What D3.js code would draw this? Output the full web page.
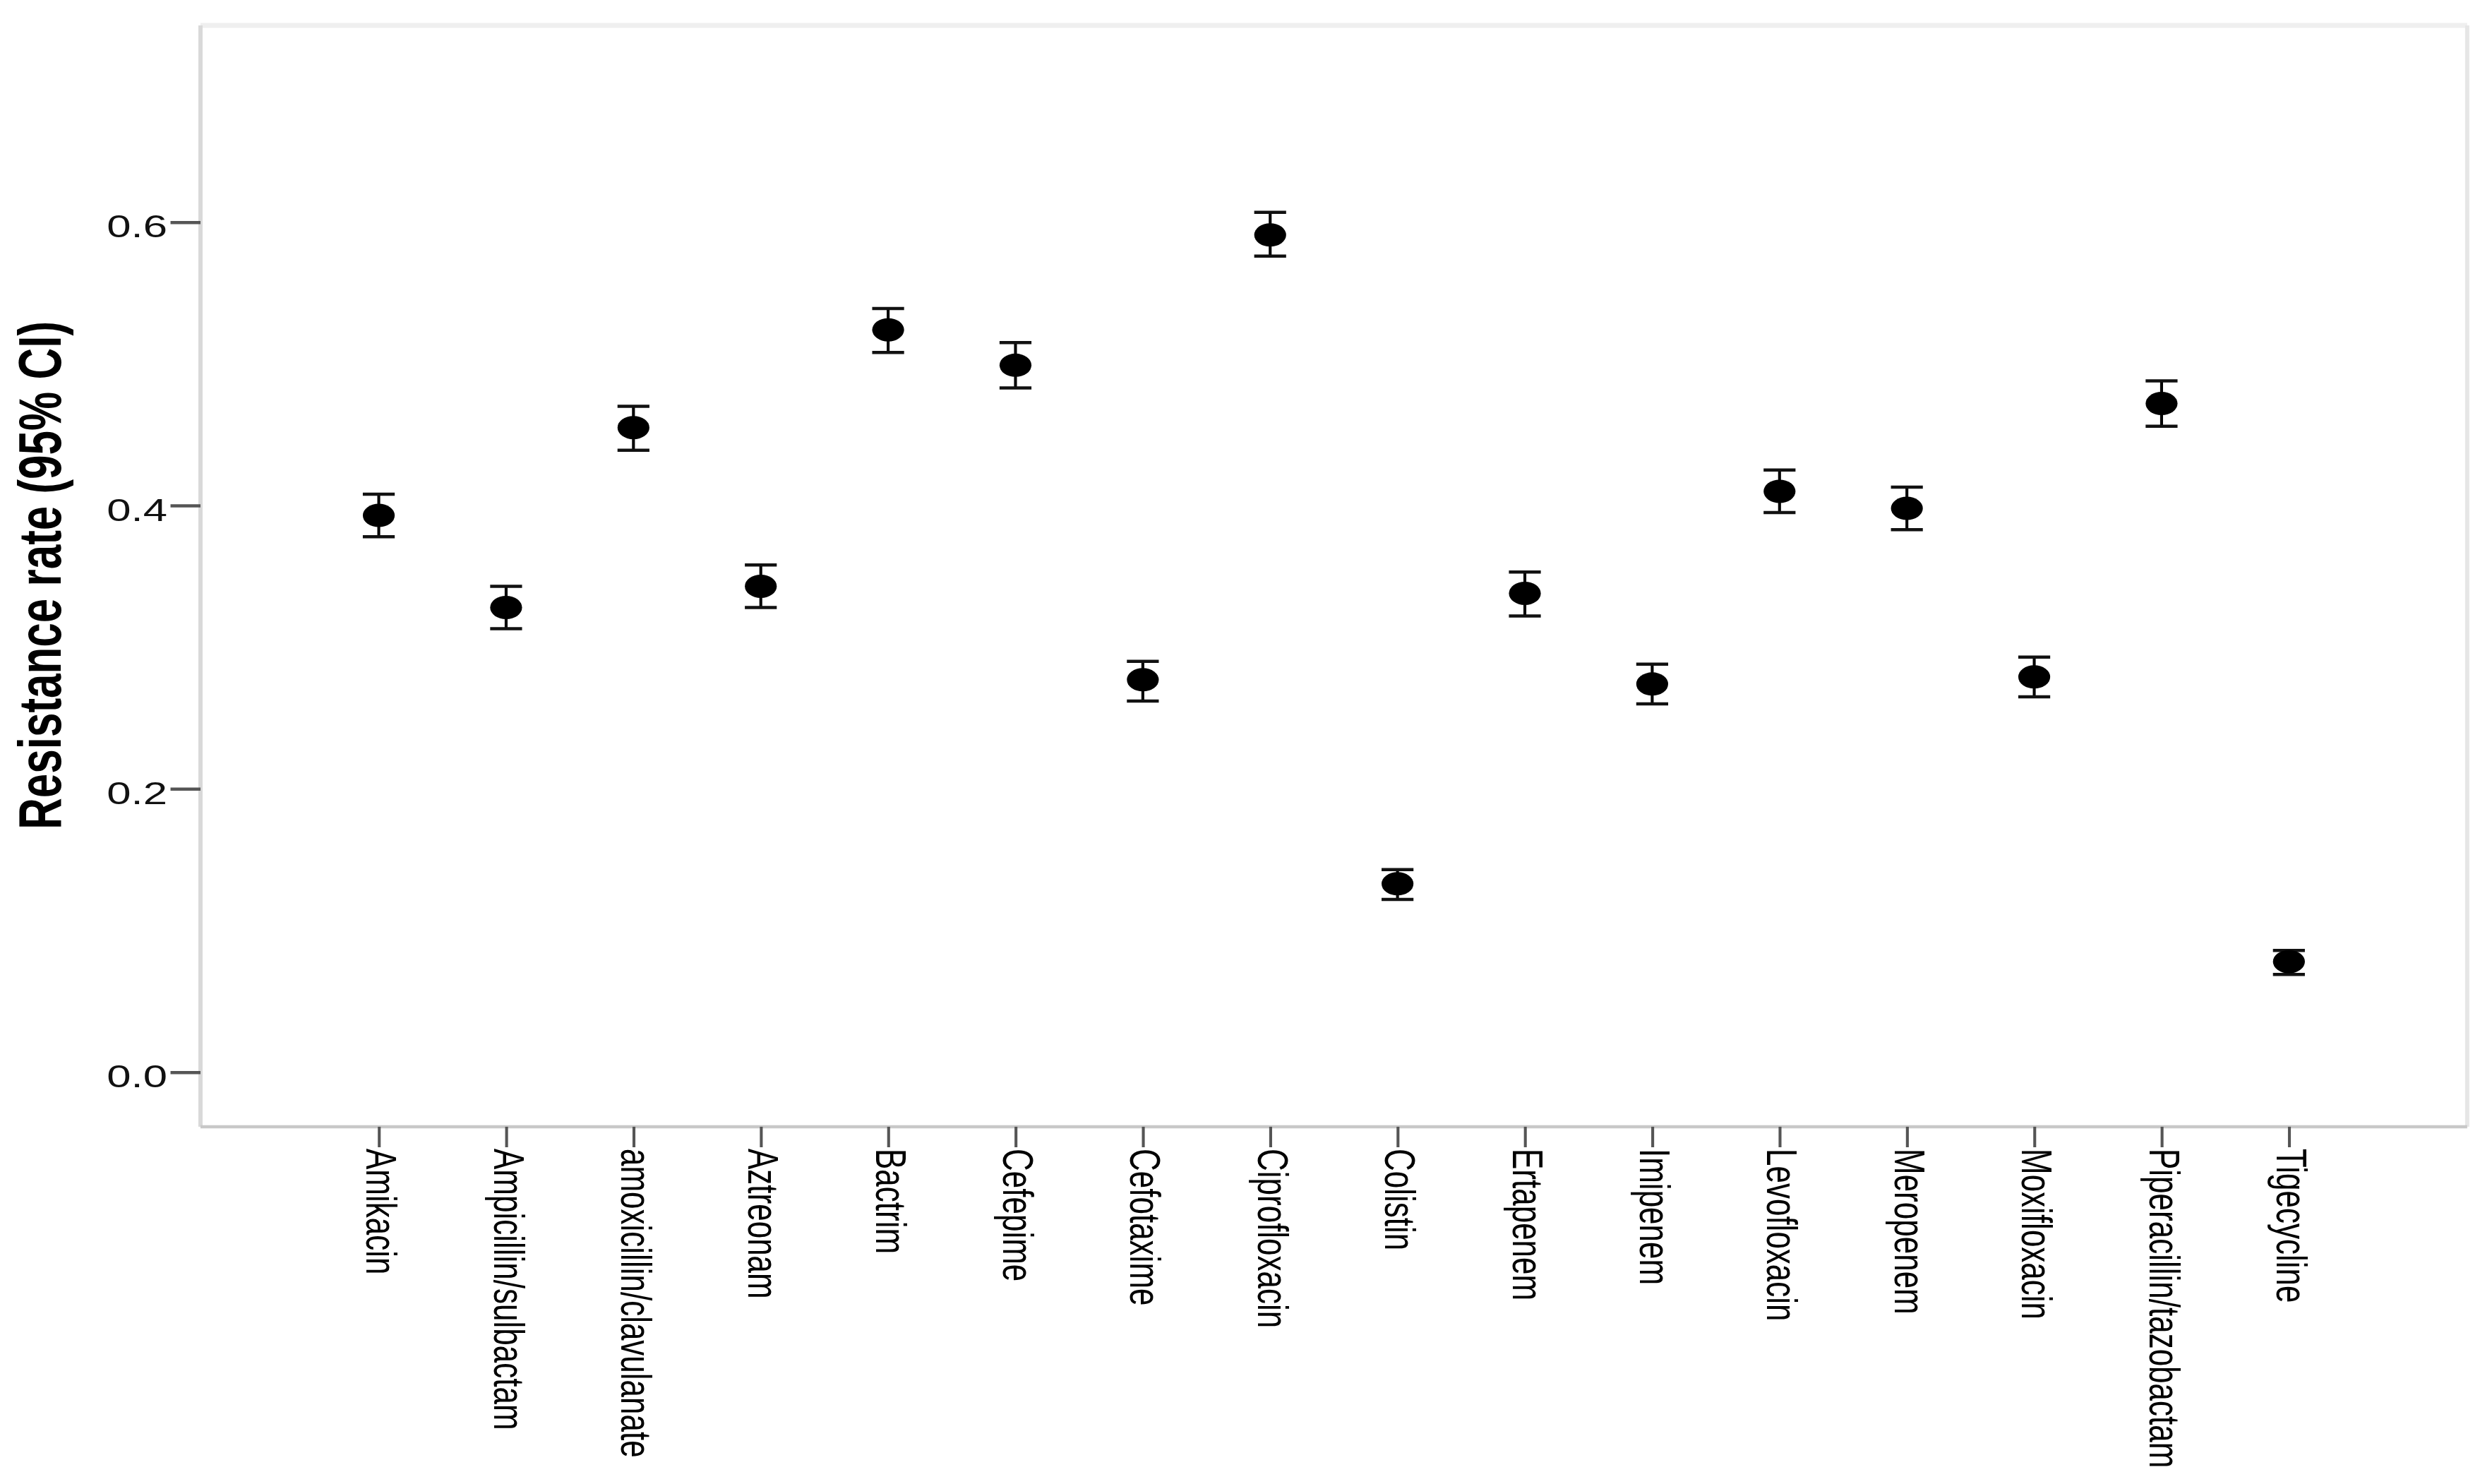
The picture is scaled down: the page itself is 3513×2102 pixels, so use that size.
<!DOCTYPE html>
<html>
<head>
<meta charset="utf-8">
<script src="https://cdn.jsdelivr.net/npm/d3@7"></script>
<style>
  body { margin: 0; background: #fff; }
  svg { display: block; }
</style>
</head>
<body>
<script>
var drugs = ["Amikacin", "Ampicillin/sulbactam", "amoxicillin/clavulanate", "Aztreonam", "Bactrim",
  "Cefepime", "Cefotaxime", "Ciprofloxacin", "Colistin", "Ertapenem", "Imipenem", "Levofloxacin",
  "Meropenem", "Moxifloxacin", "Piperacillin/tazobactam", "Tigecycline"];
var rate    = [0.393, 0.328, 0.455, 0.343, 0.524, 0.499, 0.277, 0.591, 0.133, 0.338, 0.274, 0.410, 0.398, 0.279, 0.472, 0.078];
var ci_low  = [0.378, 0.313, 0.439, 0.328, 0.508, 0.483, 0.262, 0.576, 0.122, 0.322, 0.260, 0.395, 0.383, 0.265, 0.456, 0.069];
var ci_high = [0.408, 0.343, 0.470, 0.358, 0.539, 0.515, 0.290, 0.607, 0.143, 0.353, 0.288, 0.425, 0.413, 0.293, 0.488, 0.086];
var y_ticks = [0, 0.2, 0.4, 0.6];
var y_title = "Resistance rate (95% CI)";

var width = 3513, height = 2102;
var stretch = 1.37;               // the original picture is pulled sideways, so draw narrow and let the viewBox widen it
var vw = width / stretch;

var frame = { left: 207.3, right: 2551, top: 36, bottom: 1596 };

var svg = d3.select("body").append("svg")
  .attr("width", width).attr("height", height)
  .attr("viewBox", "0 0 " + vw + " " + height)
  .attr("preserveAspectRatio", "none")
  .style("font-family", "'Liberation Sans', Arial, sans-serif");

var x = d3.scalePoint().domain(drugs).range([frame.left, frame.right]).padding(1.4);
var y = d3.scaleLinear().domain([0, 0.6]).range([1518.7, 314.7]);

/*************************** frame ***************************/

svg.append("line").attr("x1", frame.left).attr("x2", frame.right).attr("y1", frame.top).attr("y2", frame.top)
  .style("stroke", "#efefef").style("stroke-width", 7);
svg.append("line").attr("x1", frame.right).attr("x2", frame.right).attr("y1", frame.top).attr("y2", frame.bottom)
  .style("stroke", "#e6e6e6").style("stroke-width", 4.4);
svg.append("line").attr("x1", frame.left).attr("x2", frame.left).attr("y1", frame.top).attr("y2", frame.bottom)
  .style("stroke", "#d9d9d9").style("stroke-width", 4.4);
svg.append("line").attr("x1", frame.left).attr("x2", frame.right).attr("y1", frame.bottom).attr("y2", frame.bottom)
  .style("stroke", "#c8c8c8").style("stroke-width", 4.5);

/*************************** y axis ***************************/

var yAxis = svg.append("g")
  .attr("transform", "translate(" + frame.left + ",0)")
  .call(d3.axisLeft(y).tickValues(y_ticks).tickFormat(d3.format(".1f")).tickSize(31).tickPadding(3.3));
yAxis.select(".domain").remove();
yAxis.selectAll(".tick line").style("stroke", "#555").style("stroke-width", 4.5);
yAxis.selectAll(".tick text")
  .attr("dy", "0.47em")
  .style("font-size", "45px").style("fill", "#111").style("font-family", "'Liberation Sans', Arial, sans-serif");

svg.append("text")
  .attr("transform", "translate(62.8,815) rotate(-90)")
  .attr("text-anchor", "middle")
  .style("font-size", "62px").style("font-weight", "bold").style("fill", "#000")
  .text(y_title);

/*************************** x axis ***************************/

var xAxis = svg.append("g")
  .attr("transform", "translate(0," + frame.bottom + ")")
  .call(d3.axisBottom(x).tickSize(29));
xAxis.select(".domain").remove();
xAxis.selectAll(".tick line").style("stroke", "#555").style("stroke-width", 3);
xAxis.selectAll(".tick text")
  .attr("transform", "rotate(90)")
  .attr("x", 31).attr("y", 0).attr("dy", "0.3em")
  .attr("text-anchor", "start")
  .style("font-size", "44px").style("fill", "#000").style("font-family", "'Liberation Sans', Arial, sans-serif");

/*************************** error bars + points ***************************/

var rows = drugs.map(function(d, i){ return { name: d, rate: rate[i], lo: ci_low[i], hi: ci_high[i] }; });
var cap = 16.5;

var bars = svg.append("g").selectAll("g").data(rows).enter().append("g");
bars.append("line")
  .attr("x1", function(d){ return x(d.name); }).attr("x2", function(d){ return x(d.name); })
  .attr("y1", function(d){ return y(d.lo); }).attr("y2", function(d){ return y(d.hi); })
  .style("stroke", "#000").style("stroke-width", 3);
bars.append("line")
  .attr("x1", function(d){ return x(d.name) - cap; }).attr("x2", function(d){ return x(d.name) + cap; })
  .attr("y1", function(d){ return y(d.hi); }).attr("y2", function(d){ return y(d.hi); })
  .style("stroke", "#111").style("stroke-width", 4.5);
bars.append("line")
  .attr("x1", function(d){ return x(d.name) - cap; }).attr("x2", function(d){ return x(d.name) + cap; })
  .attr("y1", function(d){ return y(d.lo); }).attr("y2", function(d){ return y(d.lo); })
  .style("stroke", "#111").style("stroke-width", 4.5);
bars.append("circle")
  .attr("cx", function(d){ return x(d.name); })
  .attr("cy", function(d){ return y(d.rate); })
  .attr("r", 16.5)
  .style("fill", "#000");
</script>
</body>
</html>
